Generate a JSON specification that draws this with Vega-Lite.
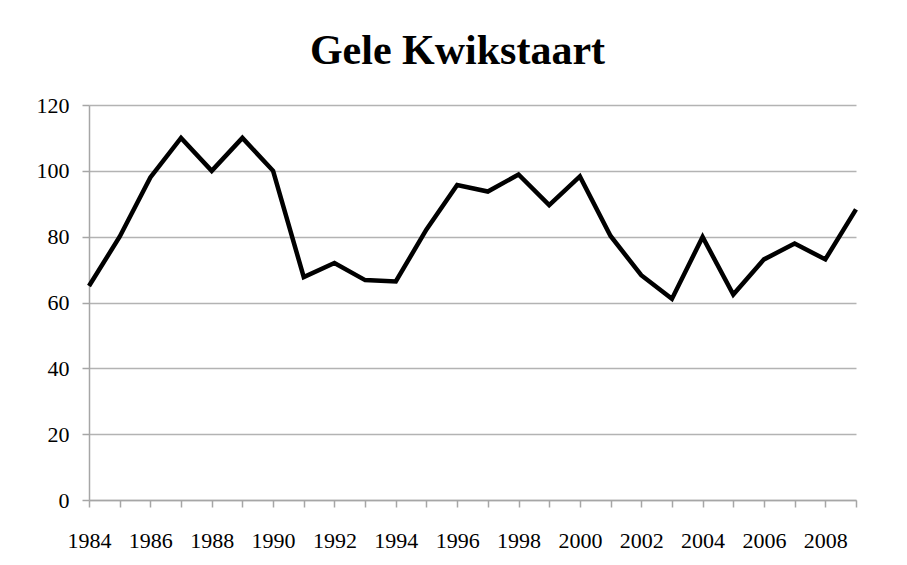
{
  "$schema": "https://vega.github.io/schema/vega-lite/v6.json",
  "width": 767,
  "height": 395,
  "autosize": {"type": "none"},
  "padding": {"left": 89, "top": 105, "right": 51, "bottom": 65},
  "background": "white",
  "title": {
    "text": "Gele Kwikstaart",
    "font": "Liberation Serif",
    "fontSize": 42,
    "fontWeight": "bold",
    "color": "black",
    "anchor": "middle",
    "frame": "group",
    "baseline": "alphabetic",
    "offset": -12,
    "dx": -15
  },
  "data": {
    "values": [
      {"jaar": 1984, "aantal": 65},
      {"jaar": 1985, "aantal": 80},
      {"jaar": 1986, "aantal": 98},
      {"jaar": 1987, "aantal": 110},
      {"jaar": 1988, "aantal": 100},
      {"jaar": 1989, "aantal": 110},
      {"jaar": 1990, "aantal": 100},
      {"jaar": 1991, "aantal": 67.7},
      {"jaar": 1992, "aantal": 72},
      {"jaar": 1993, "aantal": 66.8},
      {"jaar": 1994, "aantal": 66.4},
      {"jaar": 1995, "aantal": 82.2},
      {"jaar": 1996, "aantal": 95.7},
      {"jaar": 1997, "aantal": 93.7},
      {"jaar": 1998, "aantal": 98.9},
      {"jaar": 1999, "aantal": 89.6},
      {"jaar": 2000, "aantal": 98.3},
      {"jaar": 2001, "aantal": 80.2},
      {"jaar": 2002, "aantal": 68.3},
      {"jaar": 2003, "aantal": 61.1},
      {"jaar": 2004, "aantal": 79.9},
      {"jaar": 2005, "aantal": 62.4},
      {"jaar": 2006, "aantal": 73.1},
      {"jaar": 2007, "aantal": 77.9},
      {"jaar": 2008, "aantal": 73.1},
      {"jaar": 2009, "aantal": 88.3}
    ]
  },
  "mark": {"type": "line", "color": "black", "strokeWidth": 4.5, "strokeJoin": "miter", "clip": false},
  "encoding": {
    "x": {
      "field": "jaar",
      "type": "quantitative",
      "scale": {"domain": [1984, 2009], "nice": false, "zero": false},
      "axis": {
        "title": null,
        "grid": false,
        "values": [1984,1985,1986,1987,1988,1989,1990,1991,1992,1993,1994,1995,1996,1997,1998,1999,2000,2001,2002,2003,2004,2005,2006,2007,2008,2009],
        "labelExpr": "datum.value % 2 == 0 ? datum.value : ''",
        "format": "d",
        "labelFont": "Liberation Serif",
        "labelFontSize": 22,
        "labelColor": "black",
        "labelPadding": 23,
        "labelOverlap": false,
        "labelFlush": false,
        "domainColor": "#a6a6a6",
        "domainWidth": 1.5,
        "tickColor": "#a6a6a6",
        "tickWidth": 1.5,
        "tickSize": 7
      }
    },
    "y": {
      "field": "aantal",
      "type": "quantitative",
      "scale": {"domain": [0, 120], "nice": false},
      "axis": {
        "title": null,
        "values": [0, 20, 40, 60, 80, 100, 120],
        "labelFont": "Liberation Serif",
        "labelFontSize": 22,
        "labelColor": "black",
        "labelPadding": 13,
        "gridColor": "#b3b3b3",
        "gridWidth": 1.5,
        "domainColor": "#a6a6a6",
        "domainWidth": 1.5,
        "tickColor": "#a6a6a6",
        "tickWidth": 1.5,
        "tickSize": 7
      }
    }
  },
  "config": {
    "view": {"stroke": null}
  }
}
